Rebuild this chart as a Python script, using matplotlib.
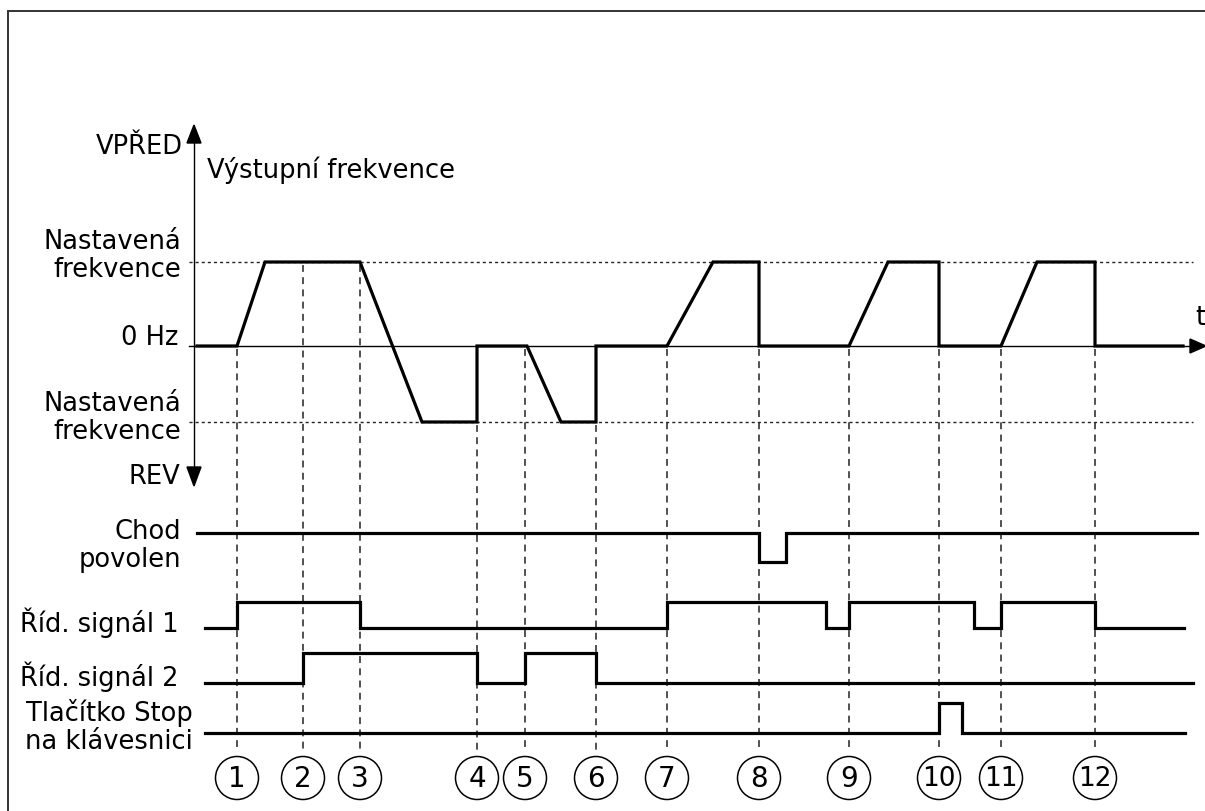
import matplotlib
matplotlib.use("Agg")
import matplotlib.pyplot as plt
from matplotlib.patches import Polygon, Circle
import numpy as np

plt.rcParams['font.family'] = ['DejaVu Sans']

# ---------------- data ----------------
event_labels = ['1', '2', '3', '4', '5', '6', '7', '8', '9', '10', '11', '12']
event_t = [237, 303, 360, 477, 525, 596, 667, 759, 849, 939, 1001, 1095]

# output frequency: time points and level (+1 forward set, 0, -1 reverse set)
freq_t = [197, 237, 265, 360, 422, 477, 477, 527, 561, 596, 596, 667, 713,
          759, 759, 849, 888, 939, 939, 1001, 1037, 1095, 1095, 1183]
freq_v = [0, 0, 1, 1, -1, -1, 0, 0, -1, -1, 0, 0, 1,
          1, 0, 0, 1, 1, 0, 0, 1, 1, 0, 0]

# digital signals: start time, end time, initial level, change times, new levels
run_start, run_end, run_init = 197, 1197, 1
run_changes_t = [759, 786]
run_changes_v = [0, 1]

sig1_start, sig1_end, sig1_init = 205, 1184, 0
sig1_changes_t = [237, 360, 667, 826, 849, 974, 1001, 1095]
sig1_changes_v = [1, 0, 1, 0, 1, 0, 1, 0]

sig2_start, sig2_end, sig2_init = 205, 1193, 0
sig2_changes_t = [303, 477, 525, 596]
sig2_changes_v = [1, 0, 1, 0]

stop_start, stop_end, stop_init = 205, 1185, 0
stop_changes_t = [939, 962]
stop_changes_v = [1, 0]

# ---------------- layout ----------------
W, H = 1205, 811
fig = plt.figure(figsize=(W / 100, H / 100), dpi=100)
ax = fig.add_axes([0, 0, 1, 1])
ax.set_xlim(0, W)
ax.set_ylim(H, 0)
ax.axis('off')

Y_FWD, Y_ZERO, Y_REV = 262, 346, 422
AX_X = 194
LW_SIG = 2.3
FS = 18.5
LS = 1.08

def freq_y(v):
    return {1: Y_FWD, 0: Y_ZERO, -1: Y_REV}[v]

# border
ax.plot([8, 8, W + 5], [H + 5, 11, 11], color='#333333', lw=1.4, solid_joinstyle='miter')

# dotted reference lines
for y in (Y_FWD, Y_REV):
    ax.plot([189, 1193], [y, y], color='#222222', lw=1.0, dashes=(2.2, 2.2))

# axes
ax.plot([AX_X, AX_X], [140, 470], color='black', lw=1.0)
ax.add_patch(Polygon([[AX_X, 125], [AX_X - 7, 143], [AX_X + 7, 143]], closed=True, color='black'))
ax.add_patch(Polygon([[AX_X, 486], [AX_X - 7, 467], [AX_X + 7, 467]], closed=True, color='black'))
ax.plot([189, 1192], [Y_ZERO, Y_ZERO], color='black', lw=1.0)
ax.add_patch(Polygon([[1206, Y_ZERO], [1190, Y_ZERO - 7], [1190, Y_ZERO + 7]], closed=True, color='black'))

# frequency curve
fy = [freq_y(v) for v in freq_v]
ax.plot(freq_t, fy, color='black', lw=LW_SIG, solid_joinstyle='miter', zorder=5)

# dashed event lines
DASH_BOTTOM = 752
for t in event_t:
    ys = [y for tt, y in zip(freq_t, fy) if tt == t]
    y0 = max(ys) if ys else float(np.interp(t, freq_t, fy))
    ax.plot([t, t], [y0 + 3, DASH_BOTTOM], color='#222222', lw=1.1, dashes=(4.5, 3.5), zorder=2)

# digital signals
def draw_signal(start, end, init, ct, cv, y_low, y_high):
    lvl = init
    xs, ys = [start], [y_high if lvl else y_low]
    for t, v in zip(ct, cv):
        xs += [t, t]
        ys += [y_high if lvl else y_low, y_high if v else y_low]
        lvl = v
    xs.append(end)
    ys.append(y_high if lvl else y_low)
    ax.plot(xs, ys, color='black', lw=LW_SIG, solid_joinstyle='miter', zorder=5)

draw_signal(run_start, run_end, run_init, run_changes_t, run_changes_v, 562, 533)
draw_signal(sig1_start, sig1_end, sig1_init, sig1_changes_t, sig1_changes_v, 628, 602)
draw_signal(sig2_start, sig2_end, sig2_init, sig2_changes_t, sig2_changes_v, 683, 653)
draw_signal(stop_start, stop_end, stop_init, stop_changes_t, stop_changes_v, 733, 703)

# event circles
for t, lab in zip(event_t, event_labels):
    ax.add_patch(Circle((t, 778), 21.5, fill=False, ec='black', lw=1.1))
    ax.text(t, 779, lab, ha='center', va='center', fontsize=20 if len(lab) == 1 else 19)

# labels
ax.text(183, 147, 'VPŘED', ha='right', va='center', fontsize=FS)
ax.text(207, 170, 'Výstupní frekvence', ha='left', va='center', fontsize=FS)
ax.text(181, 256, 'Nastavená\nfrekvence', ha='right', va='center', fontsize=FS, linespacing=LS)
ax.text(178, 338, '0 Hz', ha='right', va='center', fontsize=FS)
ax.text(181, 418, 'Nastavená\nfrekvence', ha='right', va='center', fontsize=FS, linespacing=LS)
ax.text(180, 477, 'REV', ha='right', va='center', fontsize=FS)
ax.text(181, 546, 'Chod\npovolen', ha='right', va='center', fontsize=FS, linespacing=LS)
ax.text(179, 623, 'Říd. signál 1', ha='right', va='center', fontsize=FS)
ax.text(179, 677, 'Říd. signál 2', ha='right', va='center', fontsize=FS)
ax.text(193, 727, 'Tlačítko Stop\nna klávesnici', ha='right', va='center', fontsize=FS, linespacing=LS)
ax.text(1200, 318, 't', ha='center', va='center', fontsize=FS)

fig.savefig('out.png', dpi=100)
